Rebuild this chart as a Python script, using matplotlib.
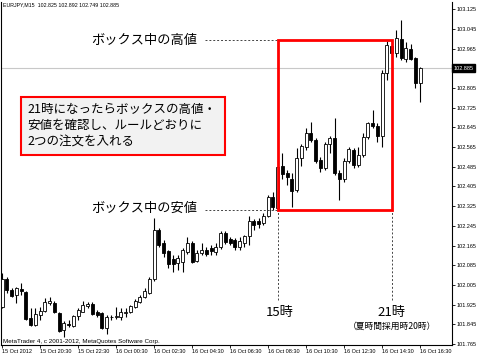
import matplotlib.pyplot as plt
from matplotlib.patches import Rectangle

plt.rcParams['font.family'] = ['Noto Sans CJK JP', 'DejaVu Sans']

# EURJPY M15, 15 Oct 18:30 - 16 Oct 16:30
opens = [101.916, 102.029, 101.985, 101.964, 101.989, 101.976, 101.871, 101.842, 101.883, 101.899,
         101.932, 101.932, 101.891, 101.822, 101.847, 101.838, 101.879, 101.895, 101.920, 101.928,
         101.895, 101.891, 101.830, 101.875, 101.875, 101.875, 101.891, 101.895, 101.916, 101.936,
         101.956, 101.972, 102.029, 102.228, 102.175, 102.143, 102.110, 102.094, 102.098, 102.139,
         102.175, 102.102, 102.135, 102.147, 102.155, 102.139, 102.159, 102.216, 102.192, 102.188,
         102.159, 102.175, 102.204, 102.265, 102.265, 102.257, 102.285, 102.362, 102.318, 102.488,
         102.460, 102.435, 102.391, 102.521, 102.565, 102.622, 102.594, 102.512, 102.480, 102.577,
         102.602, 102.460, 102.435, 102.508, 102.553, 102.492, 102.533, 102.606, 102.663, 102.650,
         102.610, 102.866, 102.975, 102.947, 103.004, 102.922, 102.963, 102.927, 102.825]
highs = [102.054, 102.037, 101.993, 101.997, 102.013, 101.981, 101.912, 101.912, 101.916, 101.952,
         101.956, 101.940, 101.895, 101.859, 101.863, 101.883, 101.912, 101.940, 101.936, 101.936,
         101.903, 101.895, 101.883, 101.883, 101.916, 101.912, 101.912, 101.924, 101.948, 101.964,
         101.993, 102.037, 102.277, 102.236, 102.188, 102.147, 102.127, 102.127, 102.155, 102.200,
         102.184, 102.147, 102.175, 102.159, 102.167, 102.175, 102.224, 102.224, 102.200, 102.196,
         102.200, 102.208, 102.285, 102.273, 102.277, 102.297, 102.370, 102.382, 102.512, 102.541,
         102.472, 102.460, 102.561, 102.577, 102.642, 102.667, 102.602, 102.525, 102.585, 102.610,
         102.683, 102.472, 102.521, 102.565, 102.561, 102.565, 102.622, 102.667, 102.715, 102.663,
         102.878, 102.996, 102.983, 103.040, 103.081, 102.991, 102.983, 102.931, 102.892]
lows = [101.912, 101.972, 101.956, 101.932, 101.964, 101.863, 101.838, 101.838, 101.863, 101.895,
        101.924, 101.891, 101.814, 101.794, 101.834, 101.834, 101.863, 101.895, 101.912, 101.883,
        101.875, 101.826, 101.806, 101.863, 101.867, 101.863, 101.875, 101.891, 101.912, 101.932,
        101.952, 101.968, 102.021, 102.159, 102.119, 102.074, 102.058, 102.066, 102.058, 102.131,
        102.094, 102.098, 102.127, 102.123, 102.127, 102.127, 102.151, 102.171, 102.167, 102.147,
        102.147, 102.159, 102.167, 102.228, 102.236, 102.248, 102.281, 102.309, 102.309, 102.435,
        102.411, 102.322, 102.382, 102.488, 102.553, 102.585, 102.500, 102.464, 102.472, 102.541,
        102.451, 102.350, 102.423, 102.500, 102.480, 102.484, 102.525, 102.598, 102.642, 102.585,
        102.565, 102.837, 102.939, 102.931, 102.918, 102.910, 102.918, 102.805, 102.749]
closes = [102.029, 101.985, 101.960, 101.993, 101.981, 101.867, 101.842, 101.887, 101.899, 101.936,
          101.940, 101.895, 101.818, 101.851, 101.842, 101.879, 101.903, 101.924, 101.928, 101.887,
          101.883, 101.830, 101.875, 101.875, 101.879, 101.895, 101.895, 101.920, 101.940, 101.956,
          101.981, 102.029, 102.228, 102.167, 102.135, 102.090, 102.090, 102.115, 102.147, 102.175,
          102.098, 102.135, 102.147, 102.131, 102.143, 102.159, 102.216, 102.179, 102.175, 102.159,
          102.184, 102.204, 102.265, 102.248, 102.253, 102.285, 102.362, 102.322, 102.484, 102.456,
          102.443, 102.387, 102.521, 102.569, 102.622, 102.594, 102.508, 102.480, 102.577, 102.602,
          102.460, 102.435, 102.508, 102.557, 102.492, 102.533, 102.606, 102.663, 102.650, 102.610,
          102.866, 102.979, 102.947, 103.008, 102.927, 102.967, 102.922, 102.825, 102.885]

time_labels = ['15 Oct 2012', '15 Oct 20:30', '15 Oct 22:30', '16 Oct 00:30', '16 Oct 02:30',
               '16 Oct 04:30', '16 Oct 06:30', '16 Oct 08:30', '16 Oct 10:30', '16 Oct 12:30',
               '16 Oct 14:30', '16 Oct 16:30']
price_ticks = [101.765, 101.845, 101.925, 102.005, 102.085, 102.165, 102.245, 102.325, 102.405,
               102.485, 102.565, 102.645, 102.725, 102.805, 102.885, 102.965, 103.045, 103.125]

box_high = 102.998
box_low = 102.310
bar_15h = 58   # 15時 (server 09:00)
bar_21h = 82   # 21時 (server 15:00)
last_price = 102.885

fig = plt.figure(figsize=(4.78, 3.56), dpi=100)
ax = fig.add_axes([1/478, 11/356, 451/478, 343/356])

idx = list(range(len(opens)))
bottoms = [min(o, c) for o, c in zip(opens, closes)]
heights = [max(abs(c - o), 0.0015) for o, c in zip(opens, closes)]
colors = ['white' if c >= o else 'black' for o, c in zip(opens, closes)]

ax.axhline(last_price, color='#c8c8c8', lw=0.8, zorder=1)
ax.vlines(idx, lows, highs, color='black', lw=0.8, zorder=2)
ax.bar(idx, heights, bottom=bottoms, width=0.62, color=colors, edgecolor='black',
       linewidth=0.6, zorder=3)

# box
ax.add_patch(Rectangle((bar_15h, box_low), bar_21h - bar_15h, box_high - box_low,
                       fill=False, edgecolor='#ff0000', lw=2, zorder=5))
dash = (0, (2, 2))
ax.plot([42.7, bar_15h], [box_high, box_high], color='#444444', lw=0.7, ls=dash, zorder=4)
ax.plot([42.7, bar_15h], [box_low, box_low], color='#444444', lw=0.7, ls=dash, zorder=4)
ax.plot([bar_15h, bar_15h], [101.944, box_low], color='#444444', lw=0.7, ls=dash, zorder=4)
ax.plot([bar_21h, bar_21h], [101.944, box_low], color='#444444', lw=0.7, ls=dash, zorder=4)

ax.text(41.0, box_high, 'ボックス中の高値', ha='right', va='center', fontsize=9.5)
ax.text(41.0, box_low + 0.004, 'ボックス中の安値', ha='right', va='center', fontsize=9.5)
ax.text(bar_15h + 0.5, 101.891, '15時', ha='center', va='center', fontsize=9.5)
ax.text(bar_21h, 101.891, '21時', ha='center', va='center', fontsize=9.5)
ax.text(bar_21h, 101.838, '（夏時間採用時20時）', ha='center', va='center', fontsize=6.3)

# note box
fig.add_artist(Rectangle((21/478, 1 - 155/356), 204/478, 58/356, transform=fig.transFigure,
                         facecolor='#f2f2f2', edgecolor='#ff0000', lw=1.5, zorder=6))
note = ['21時になったらボックスの高値・', '安値を確認し、ルールどおりに', '2つの注文を入れる']
for k, line in enumerate(note):
    fig.text(27/478, 1 - (110 + 16*k)/356, line, ha='left', va='center', fontsize=9, zorder=7)

# axes
ax.set_xlim(-0.25, 94.7)
ax.set_ylim(101.761, 103.154)
ax.set_xticks(list(range(0, len(opens), 8)), time_labels, ha='left')
ax.yaxis.tick_right()
# the current-price tag replaces the plain label at that level
ax.set_yticks(price_ticks, ['' if p == last_price else f'{p:.3f}' for p in price_ticks])
ax.tick_params(axis='both', labelsize=4, length=2, width=0.6, pad=1.2, direction='out')
for lab in ax.get_xticklabels() + ax.get_yticklabels():
    lab.set_family('Liberation Sans')
ax.spines['top'].set_visible(False)
for s in ['left', 'right', 'bottom']:
    ax.spines[s].set_linewidth(0.8)

ax.text(1.003, last_price, f'{last_price:.3f}', transform=ax.get_yaxis_transform(),
        ha='left', va='center', fontsize=4, color='white', family='Liberation Sans',
        bbox=dict(boxstyle='square,pad=0.25', fc='black', ec='black'), clip_on=False)

fig.text(3/478, 1 - 5/356, 'EURJPY,M15  102.825 102.892 102.749 102.885', fontsize=3.8,
         va='center', family='Liberation Sans')
fig.text(3/478, 1 - 341/356, 'MetaTrader 4, c 2001-2012, MetaQuotes Software Corp.',
         fontsize=4.5, va='center', family='Liberation Sans')

fig.savefig('out.png', dpi=100)
